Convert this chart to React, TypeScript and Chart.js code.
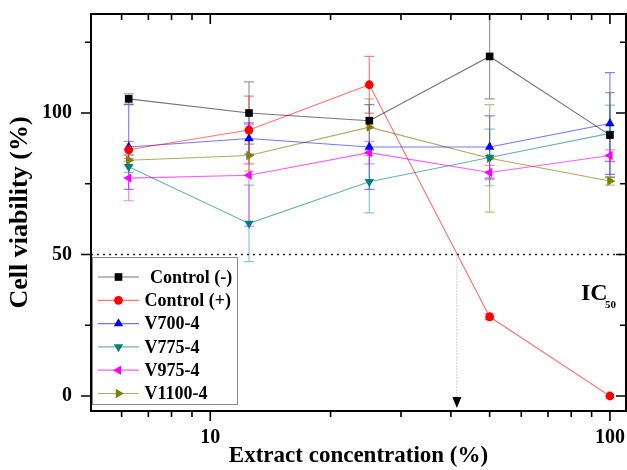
import React, { useEffect, useRef } from 'react';
import { Chart, registerables } from 'chart.js';

Chart.register(...registerables);

// ---- data ----
const concentrations = [6.25, 12.5, 25, 50, 100];
const seriesLabels = ['Control (-)', 'Control (+)', 'V700-4', 'V775-4', 'V975-4', 'V1100-4'];
const controlNeg = [105, 100, 97.3, 120, 92.2];
const controlNegErr = [1.8, 11, 0, 15, 15];
const controlPos = [87, 94, 110, 28, 0];
const controlPosErr = [3, 12, 10, 1, 0];
const v700 = [88, 91, 88, 88, 96.3];
const v700Err = [15, 5.5, 15, 11, 18];
const v775 = [81, 61, 75.7, 84.3, 92.8];
const v775Err = [2, 13.5, 11, 10, 10];
const v975 = [77, 78, 86, 79, 85];
const v975Err = [8, 18, 4, 2.5, 2];
const v1100 = [83.3, 85, 95, 84, 76];
const v1100Err = [2, 5.5, 10, 19, 1.5];

const yTickValues = [0, 50, 100];
const yMinorTicks = [25, 75, 125];
const xTickValues = [10, 100];
const xMinorTicks = [6, 7, 8, 9, 20, 30, 40, 50, 60, 70, 80, 90];
const IC50_LEVEL = 50;
const IC50_VALUE = 41.4;

const seriesValues = [controlNeg, controlPos, v700, v775, v975, v1100];
const seriesErrors = [controlNegErr, controlPosErr, v700Err, v775Err, v975Err, v1100Err];
const markerColors = ['#000000', '#ff0000', '#0000ff', '#008080', '#ff00ff', '#808000'];
const lineColors = ['rgba(0,0,0,0.55)', 'rgba(255,0,0,0.55)', 'rgba(0,0,255,0.55)', 'rgba(0,128,128,0.6)', 'rgba(255,0,255,0.65)', 'rgba(128,128,0,0.65)'];
const errColors = ['rgba(0,0,0,0.4)', 'rgba(255,0,0,0.5)', 'rgba(0,0,255,0.5)', 'rgba(0,128,128,0.45)', 'rgba(255,0,255,0.5)', 'rgba(128,128,0,0.5)'];
const pointStyles = ['rect', 'circle', 'triangle', 'triangle', 'triangle', 'triangle'];
const pointRotations = [0, 0, 0, 180, 270, 90];
const pointRadii = [5.4, 4.4, 5.4, 5.4, 5.4, 5.4];

const SERIF = '"Liberation Serif", "Times New Roman", serif';

function drawMarker(ctx: CanvasRenderingContext2D, style: string, rot: number, r: number, x: number, y: number, color: string) {
  ctx.save();
  ctx.fillStyle = color;
  ctx.beginPath();
  if (style === 'rect') {
    const s = r * Math.SQRT1_2;
    ctx.rect(x - s, y - s, 2 * s, 2 * s);
  } else if (style === 'circle') {
    ctx.arc(x, y, r, 0, Math.PI * 2);
  } else {
    let rad = (rot * Math.PI) / 180;
    ctx.moveTo(x + Math.sin(rad) * r, y - Math.cos(rad) * r);
    rad += (2 * Math.PI) / 3;
    ctx.lineTo(x + Math.sin(rad) * r, y - Math.cos(rad) * r);
    rad += (2 * Math.PI) / 3;
    ctx.lineTo(x + Math.sin(rad) * r, y - Math.cos(rad) * r);
    ctx.closePath();
  }
  ctx.fill();
  ctx.restore();
}

const zeroPad = (s: any) => {
  s.paddingTop = 0;
  s.paddingBottom = 0;
  s.paddingLeft = 0;
  s.paddingRight = 0;
};

const decorPlugin = {
  id: 'decor',
  beforeDatasetsDraw(chart: any) {
    const { ctx, chartArea: a, scales } = chart;
    const x = scales.x;
    const y = scales.y;
    ctx.save();
    // IC50 horizontal dotted line
    const y50 = y.getPixelForValue(IC50_LEVEL);
    ctx.strokeStyle = '#222';
    ctx.lineWidth = 1.6;
    ctx.setLineDash([2, 4]);
    ctx.beginPath();
    ctx.moveTo(a.left, y50);
    ctx.lineTo(a.right, y50);
    ctx.stroke();
    // vertical dotted line to IC50 value
    const xi = x.getPixelForValue(IC50_VALUE);
    ctx.strokeStyle = '#9a9a9a';
    ctx.lineWidth = 1;
    ctx.setLineDash([1, 2]);
    ctx.beginPath();
    ctx.moveTo(xi, y50);
    ctx.lineTo(xi, a.bottom - 13);
    ctx.stroke();
    ctx.setLineDash([]);
    ctx.fillStyle = '#000';
    ctx.beginPath();
    ctx.moveTo(xi - 4.5, a.bottom - 14);
    ctx.lineTo(xi + 4.5, a.bottom - 14);
    ctx.lineTo(xi, a.bottom - 3);
    ctx.closePath();
    ctx.fill();

    // error bars
    ctx.beginPath();
    ctx.rect(a.left, a.top, a.right - a.left, a.bottom - a.top);
    ctx.clip();
    seriesValues.forEach((vals, i) => {
      const errs = seriesErrors[i];
      ctx.strokeStyle = errColors[i];
      ctx.lineWidth = 1.2;
      vals.forEach((v, j) => {
        const e = errs[j];
        if (!e) return;
        const px = x.getPixelForValue(concentrations[j]);
        const pt = y.getPixelForValue(v + e);
        const pb = y.getPixelForValue(v - e);
        ctx.beginPath();
        ctx.moveTo(px, pt);
        ctx.lineTo(px, pb);
        ctx.moveTo(px - 5, pt);
        ctx.lineTo(px + 5, pt);
        ctx.moveTo(px - 5, pb);
        ctx.lineTo(px + 5, pb);
        ctx.stroke();
      });
    });
    ctx.restore();
  },
  afterDraw(chart: any) {
    const { ctx, chartArea: a, scales } = chart;
    const x = scales.x;
    const y = scales.y;
    ctx.save();
    // frame
    ctx.strokeStyle = '#000';
    ctx.lineWidth = 2;
    ctx.strokeRect(a.left, a.top, a.right - a.left, a.bottom - a.top);
    ctx.lineWidth = 1.6;
    ctx.beginPath();
    const tick = (vals: number[], len: number) => {
      vals.forEach((v) => {
        const py = y.getPixelForValue(v);
        ctx.moveTo(a.left - len, py);
        ctx.lineTo(a.left, py);
        ctx.moveTo(a.right, py);
        ctx.lineTo(a.right - len, py);
      });
    };
    tick(yTickValues, 10);
    tick(yMinorTicks, 6);
    const xtick = (vals: number[], len: number) => {
      vals.forEach((v) => {
        const px = x.getPixelForValue(v);
        ctx.moveTo(px, a.bottom);
        ctx.lineTo(px, a.bottom + len);
        ctx.moveTo(px, a.top);
        ctx.lineTo(px, a.top + len);
      });
    };
    xtick(xTickValues, 10);
    xtick(xMinorTicks, 6);
    ctx.stroke();

    // legend
    const lx = a.left;
    const ly = 257.5;
    const lw = 145;
    const lh = 147;
    ctx.fillStyle = '#fff';
    ctx.fillRect(lx + 1, ly, lw, lh);
    ctx.strokeStyle = '#8a8a8a';
    ctx.lineWidth = 1;
    ctx.strokeRect(lx + 1.5, ly, lw, lh);
    ctx.font = `bold 18px ${SERIF}`;
    ctx.textBaseline = 'middle';
    ctx.textAlign = 'left';
    seriesLabels.forEach((label, i) => {
      const cy = 277 + i * 23.3;
      ctx.strokeStyle = lineColors[i];
      ctx.lineWidth = 1.2;
      ctx.beginPath();
      ctx.moveTo(98, cy);
      ctx.lineTo(139, cy);
      ctx.stroke();
      drawMarker(ctx, pointStyles[i], pointRotations[i], pointRadii[i], 118.5, cy, markerColors[i]);
      ctx.fillStyle = '#000';
      ctx.fillText(label, i === 0 ? 150 : 144.5, cy + 1);
    });

    // IC50 label
    ctx.fillStyle = '#000';
    ctx.textBaseline = 'alphabetic';
    ctx.font = `bold 24px ${SERIF}`;
    ctx.fillText('IC', 581, 300);
    ctx.font = `bold 11px ${SERIF}`;
    ctx.fillText('50', 605, 308);
    ctx.restore();
  },
};

export default function App() {
  const canvasRef = useRef<HTMLCanvasElement | null>(null);

  useEffect(() => {
    const canvas = canvasRef.current;
    if (!canvas) return;
    const datasets = seriesLabels.map((label, i) => ({
      label,
      data: concentrations.map((c, j) => ({ x: c, y: seriesValues[i][j] })),
      borderColor: lineColors[i],
      backgroundColor: markerColors[i],
      pointBackgroundColor: markerColors[i],
      pointBorderColor: markerColors[i],
      pointBorderWidth: 0,
      borderWidth: 1.1,
      pointStyle: pointStyles[i],
      rotation: pointRotations[i],
      pointRadius: pointRadii[i],
      tension: 0,
    }));
    const chart = new Chart(canvas, {
      type: 'line',
      data: { datasets },
      options: {
        animation: false,
        responsive: false,
        maintainAspectRatio: false,
        devicePixelRatio: 1,
        layout: { autoPadding: false, padding: { top: 14, right: 1, left: 0, bottom: 0 } },
        plugins: { legend: { display: false }, tooltip: { enabled: false } },
        scales: {
          x: {
            type: 'logarithmic',
            min: 5.03,
            max: 109.7,
            grid: { display: false, drawTicks: false },
            border: { display: false },
            afterBuildTicks: (s: any) => {
              s.ticks = xTickValues.map((v) => ({ value: v }));
            },
            afterFit: (s: any) => {
              s.height = 59;
              zeroPad(s);
            },
            ticks: {
              padding: 15,
              color: '#000',
              font: { family: SERIF, size: 20, weight: 'bold' },
              callback: (v: any) => String(v),
              maxRotation: 0,
              autoSkip: false,
            },
            title: {
              display: true,
              text: 'Extract concentration (%)',
              color: '#000',
              font: { family: SERIF, size: 23, weight: 'bold' },
              padding: { top: 0, bottom: 0 },
            },
          },
          y: {
            type: 'linear',
            min: -5.3,
            max: 135,
            grid: { display: false, drawTicks: false },
            border: { display: false },
            afterBuildTicks: (s: any) => {
              s.ticks = yTickValues.map((v) => ({ value: v }));
            },
            afterFit: (s: any) => {
              s.width = 91;
              zeroPad(s);
            },
            ticks: {
              padding: 19,
              color: '#000',
              font: { family: SERIF, size: 20, weight: 'bold' },
              callback: (v: any) => String(v),
            },
            title: {
              display: true,
              text: 'Cell viability (%)',
              color: '#000',
              font: { family: SERIF, size: 26, weight: 'bold' },
              padding: { top: 5, bottom: 0 },
            },
          },
        },
      } as any,
      plugins: [decorPlugin],
    });
    return () => chart.destroy();
  }, []);

  return (
    <div style={{ position: 'fixed', left: 0, top: 0, width: 627, height: 470, background: '#fff' }}>
      <canvas ref={canvasRef} width={627} height={470} style={{ width: 627, height: 470 }} />
    </div>
  );
}
